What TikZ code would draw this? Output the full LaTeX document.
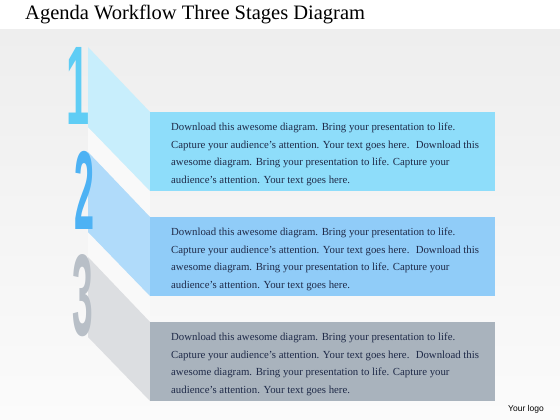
\documentclass[tikz,border=0pt]{standalone}
\usepackage{fontspec}
\setmainfont{Liberation Serif}
\newfontfamily\digitfont{Liberation Sans}
\newfontfamily\logofont{Liberation Sans}
\definecolor{bgtop}{HTML}{EEEEEE}
\definecolor{bgbot}{HTML}{FBFBFB}
\definecolor{gapcol}{HTML}{F9F9F9}
\definecolor{faceA}{HTML}{C8EEFC}
\definecolor{faceB}{HTML}{B0DBFA}
\definecolor{faceC}{HTML}{DCDEE1}
\definecolor{boxA}{HTML}{8EDDFA}
\definecolor{boxB}{HTML}{90CCF8}
\definecolor{boxC}{HTML}{A9B3BD}
\definecolor{digA}{HTML}{5FCDF5}
\definecolor{digB}{HTML}{4DB2F4}
\definecolor{digC}{HTML}{B8BFC7}
\definecolor{txtcol}{HTML}{1F2A48}
\tikzset{
  stagebox/.style={draw=none, minimum width=345pt, minimum height=79pt, inner sep=0pt, anchor=north west},
  stagetext/.style={anchor=north west, inner sep=0pt, align=left, text=txtcol,
    font=\fontsize{10.8}{17.5}\selectfont},
  digitnode/.style={anchor=south east, inner sep=0pt},
}
\newcommand{\bodytext}{Download this awesome diagram. Bring your presentation to life.\\
Capture your audience’s attention. Your text goes here.~ Download this\\
awesome diagram. Bring your presentation to life. Capture your\\
audience’s attention. Your text goes here.}
\begin{document}
\begin{tikzpicture}[x=1pt,y=-1pt]
\useasboundingbox (0,0) rectangle (560,420);
\fill[white] (0,0) rectangle (560,420);
\shade[top color=bgtop, bottom color=bgbot] (0,30) rectangle (560,420);
% title
\node[anchor=base west, inner sep=0pt, font=\fontsize{20.5}{24}\selectfont] (title) at (25,20) {Agenda Workflow Three Stages Diagram};
% gap bands
\fill[gapcol] (88,127) -- (150,191) -- (150,217) -- (88,152) -- cycle;
\fill[gapcol] (88,232) -- (150,296) -- (150,322) -- (88,257) -- cycle;
% faces
\fill[faceA] (88,47) -- (150,112) -- (150,191) -- (88,127) -- cycle;
\fill[faceB] (88,152) -- (150,217) -- (150,296) -- (88,232) -- cycle;
\fill[faceC] (88,257) -- (150,322) -- (150,401) -- (88,337) -- cycle;
% boxes
\node[stagebox, fill=boxA] (b1) at (150,112) {};
\node[stagebox, fill=boxB] (b2) at (150,217) {};
\node[stagebox, fill=boxC] (b3) at (150,322) {};
\node[stagetext] (t1) at (171,123) {\bodytext};
\node[stagetext] (t2) at (171,228) {\bodytext};
\node[stagetext] (t3) at (171,333) {\bodytext};
% digits
\node[digitnode, text=digA] (d1) at (90,125) {\scalebox{0.37}[1]{\fontsize{112}{112}\digitfont\bfseries 1}};
\node[digitnode, text=digB] (d2) at (95,230) {\scalebox{0.32}[1]{\fontsize{112}{112}\digitfont\bfseries 2}};
\node[digitnode, text=digC] (d3) at (93,337) {\scalebox{0.32}[1]{\fontsize{116}{116}\digitfont\bfseries 3}};
% logo
\node[anchor=base west, inner sep=0pt, font=\fontsize{8.5}{10}\logofont] (logo) at (508,411) {Your logo};
\end{tikzpicture}
\end{document}
